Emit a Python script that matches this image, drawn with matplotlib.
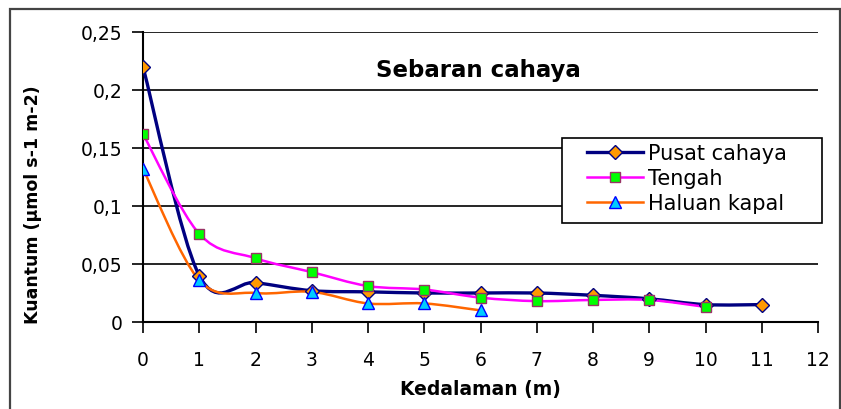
import matplotlib
matplotlib.use('Agg')
import matplotlib.pyplot as plt
import matplotlib.patches as mpatches
from matplotlib.path import Path
from matplotlib.lines import Line2D
from matplotlib.ticker import FuncFormatter
import numpy as np

plt.rcParams['font.family'] = ['DejaVu Sans']

# kedalaman (m) dan kuantum cahaya tiap posisi
depth_pusat = [0, 1, 2, 3, 4, 5, 6, 7, 8, 9, 10, 11]
pusat = [0.220, 0.040, 0.034, 0.027, 0.026, 0.025, 0.025, 0.025, 0.023, 0.020, 0.015, 0.015]

depth_tengah = [0, 1, 2, 3, 4, 5, 6, 7, 8, 9, 10]
tengah = [0.162, 0.076, 0.055, 0.043, 0.031, 0.028, 0.021, 0.018, 0.019, 0.019, 0.013]

depth_haluan = [0, 1, 2, 3, 4, 5, 6]
haluan = [0.132, 0.036, 0.025, 0.026, 0.016, 0.016, 0.010]


def smooth_path(x, y):
    # kurva bezier halus melewati titik data (seperti garis smooth di Excel)
    p = np.column_stack([x, y]).astype(float)
    n = len(p)
    verts = [p[0]]
    codes = [Path.MOVETO]
    for i in range(n - 1):
        p0 = p[i - 1] if i > 0 else p[i]
        p3 = p[i + 2] if i + 2 < n else p[i + 1]
        c1 = p[i] + (p[i + 1] - p0) / 6.0
        c2 = p[i + 1] - (p3 - p[i]) / 6.0
        verts += [c1, c2, p[i + 1]]
        codes += [Path.CURVE4] * 3
    return Path(verts, codes)


W, H = 841, 410
fig = plt.figure(figsize=(W / 100, H / 100), dpi=100, facecolor='w')
ax = fig.add_axes([143 / W, 87 / H, 675 / W, 290 / H])


def ax_x(px):
    return (px - 143) / 675.0


def ax_y(py):
    return (323 - py) / 290.0


series = [
    (depth_pusat, pusat, '#000080', 2.4, 'D', '#FF9900', '#000080', 7, 'Pusat cahaya'),
    (depth_tengah, tengah, '#FF00FF', 1.8, 's', '#00FF00', '#993366', 6.5, 'Tengah'),
    (depth_haluan, haluan, '#FF6600', 1.8, '^', '#00CCFF', '#0000FF', 9, 'Haluan kapal'),
]

handles = []
for xs, ys, lc, lw, mk, mfc, mec, ms, lab in series:
    ax.add_patch(mpatches.PathPatch(smooth_path(xs, ys), facecolor='none',
                                    edgecolor=lc, lw=lw, zorder=3))
for xs, ys, lc, lw, mk, mfc, mec, ms, lab in series:
    ax.plot(xs, ys, ls='none', marker=mk, ms=ms, mfc=mfc, mec=mec, mew=1.0, zorder=4)
    handles.append(Line2D([], [], color=lc, lw=lw, marker=mk, ms=ms, mfc=mfc,
                          mec=mec, mew=1.0, label=lab))

ax.set_xlim(0, 12)
ax.set_ylim(0, 0.25)
ax.set_xticks(range(0, 13))
ax.set_yticks([0, 0.05, 0.1, 0.15, 0.2, 0.25])
ax.yaxis.set_major_formatter(FuncFormatter(lambda v, pos: ('%g' % round(v, 2)).replace('.', ',')))
ax.grid(axis='y', color='black', lw=1.2)
ax.set_axisbelow(True)
ax.tick_params(direction='out', length=8, width=1.2, labelsize=13.5, colors='black', pad=7)
ax.tick_params(axis='x', pad=12)
for s in ['top', 'right']:
    ax.spines[s].set_visible(False)
for s in ['left', 'bottom']:
    ax.spines[s].set_linewidth(1.5)

ax.text(ax_x(478), ax_y(70), 'Sebaran cahaya', transform=ax.transAxes, ha='center',
        va='center', fontsize=16.5, fontweight='bold')
ax.set_xlabel('Kedalaman (m)', fontsize=13.5, fontweight='bold')
ax.xaxis.set_label_coords(ax_x(480), ax_y(390))
ax.xaxis.label.set_va('center')
ax.set_ylabel('Kuantum (µmol s-1 m-2)', fontsize=12.5, fontweight='bold')
ax.yaxis.set_label_coords(ax_x(33), ax_y(205))
ax.yaxis.label.set_va('center')

# kotak legenda digambar sendiri supaya lebih lebar
ax.add_patch(mpatches.Rectangle((ax_x(562), ax_y(224)), ax_x(822) - ax_x(562),
                                ax_y(139) - ax_y(224), transform=ax.transAxes,
                                facecolor='white', edgecolor='black', lw=1.2,
                                zorder=5, clip_on=False))
leg = ax.legend(handles=handles, loc='upper left', bbox_to_anchor=(ax_x(587), ax_y(144)),
                fontsize=15, frameon=False, borderpad=0, labelspacing=0.24,
                handlelength=2.7, handletextpad=0.25, borderaxespad=0)
leg.set_zorder(6)

# bingkai luar grafik
fig.patches.append(mpatches.Rectangle((10 / W, -0.05), 830 / W, 1.05 - 10 / H,
                                      transform=fig.transFigure, fill=False,
                                      edgecolor='#444444', lw=1.6))

fig.savefig('out.png', dpi=100, facecolor='w')
